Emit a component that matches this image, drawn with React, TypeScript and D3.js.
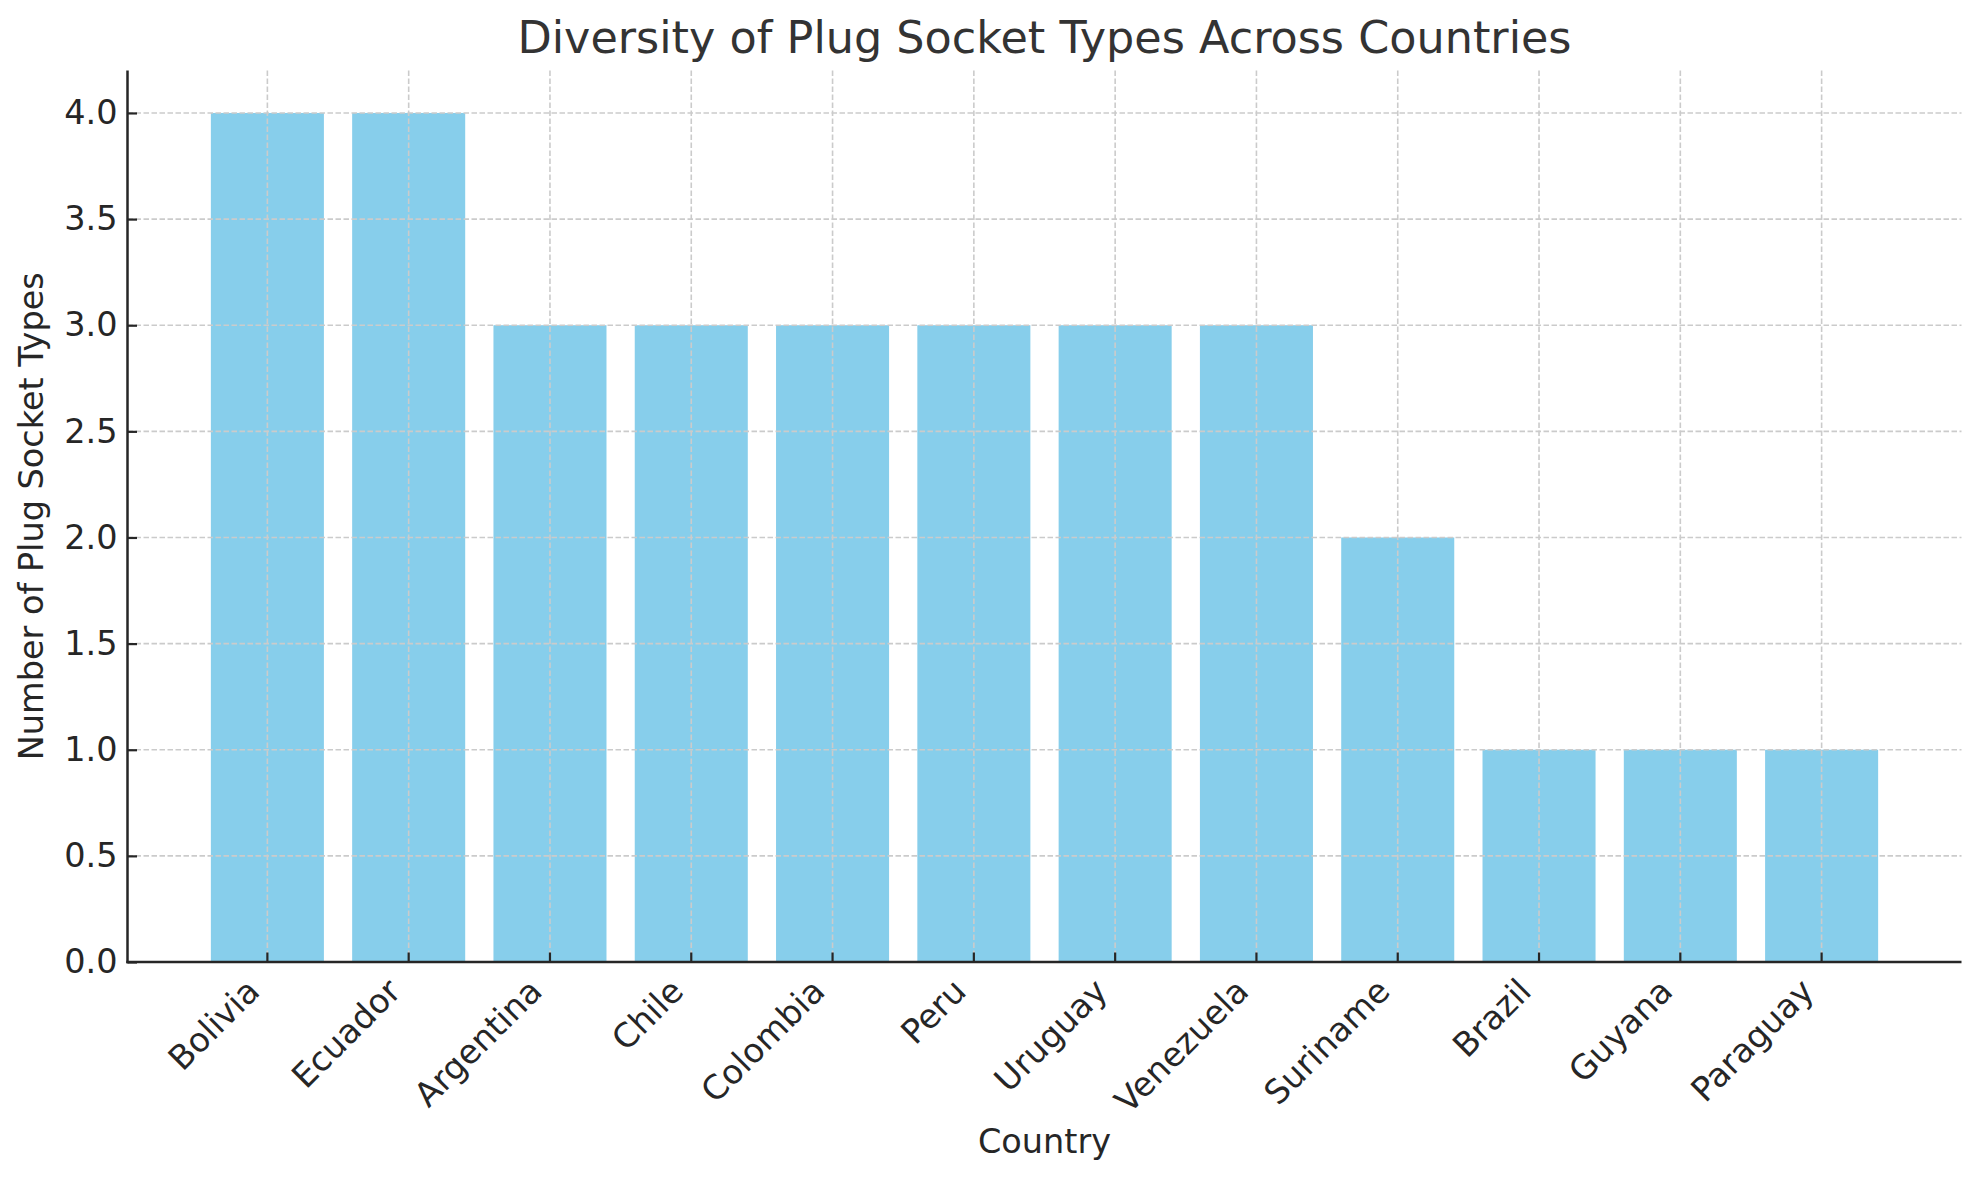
import { useEffect, useRef } from "react";
import * as d3 from "d3";

const countries = [
  "Bolivia",
  "Ecuador",
  "Argentina",
  "Chile",
  "Colombia",
  "Peru",
  "Uruguay",
  "Venezuela",
  "Suriname",
  "Brazil",
  "Guyana",
  "Paraguay",
];
const socketCounts = [4, 4, 3, 3, 3, 3, 3, 3, 2, 1, 1, 1];
const yTicks = [0, 0.5, 1, 1.5, 2, 2.5, 3, 3.5, 4];

const WIDTH = 1979;
const HEIGHT = 1180;
const PLOT = { left: 127.5, right: 1961.5, top: 70.5, bottom: 962 };
const FONT = "'DejaVu Sans', Verdana, sans-serif";
const TEXT = "#262626";

export default function App() {
  const gRef = useRef<SVGGElement>(null);

  useEffect(() => {
    if (!gRef.current) return;
    const g = d3.select(gRef.current);
    g.selectAll("*").remove();

    const x = d3
      .scaleBand<string>()
      .domain(countries)
      .range([PLOT.left, PLOT.right])
      .paddingInner(0.2)
      .paddingOuter(0.59);

    const y = d3.scaleLinear().domain([0, 4.2]).range([PLOT.bottom, PLOT.top]);

    // bars
    g.append("g")
      .selectAll("rect")
      .data(countries)
      .join("rect")
      .attr("x", (d) => x(d)!)
      .attr("y", (_, i) => y(socketCounts[i]))
      .attr("width", x.bandwidth())
      .attr("height", (_, i) => y(0) - y(socketCounts[i]))
      .attr("fill", "#87ceeb");

    // grid (drawn over bars)
    const grid = g
      .append("g")
      .attr("stroke", "#cbcbcb")
      .attr("stroke-width", 1.6)
      .attr("stroke-dasharray", "5.5,2.5");
    grid
      .selectAll("line.h")
      .data(yTicks.slice(1))
      .join("line")
      .attr("class", "h")
      .attr("x1", PLOT.left)
      .attr("x2", PLOT.right)
      .attr("y1", (d) => y(d))
      .attr("y2", (d) => y(d));
    grid
      .selectAll("line.v")
      .data(countries)
      .join("line")
      .attr("class", "v")
      .attr("x1", (d) => x(d)! + x.bandwidth() / 2)
      .attr("x2", (d) => x(d)! + x.bandwidth() / 2)
      .attr("y1", PLOT.top)
      .attr("y2", PLOT.bottom);

    // y axis
    const yAxis = g
      .append("g")
      .attr("transform", `translate(${PLOT.left},0)`)
      .call(
        d3
          .axisLeft(y)
          .tickValues(yTicks)
          .tickFormat((d) => d3.format(".1f")(Number(d)))
          .tickSizeInner(-9.5)
          .tickSizeOuter(0)
          .tickPadding(10)
      );
    yAxis.select(".domain").remove();
    yAxis.selectAll(".tick line").attr("stroke", TEXT).attr("stroke-width", 2.2);
    yAxis
      .selectAll(".tick text")
      .attr("fill", TEXT)
      .attr("font-size", 33.5)
      .attr("font-family", FONT);

    // x axis
    const xAxis = g
      .append("g")
      .attr("transform", `translate(0,${PLOT.bottom})`)
      .call(d3.axisBottom(x).tickSizeInner(-9.5).tickSizeOuter(0));
    xAxis.select(".domain").remove();
    xAxis.selectAll(".tick line").attr("stroke", TEXT).attr("stroke-width", 2.2);
    xAxis
      .selectAll(".tick text")
      .attr("fill", TEXT)
      .attr("font-size", 33.5)
      .attr("font-family", FONT)
      .attr("text-anchor", "end")
      .attr("dominant-baseline", "central")
      .attr("x", null)
      .attr("y", null)
      .attr("dy", null)
      .attr("transform", "translate(-14,23) rotate(-45)");

    // spines
    g.append("line")
      .attr("x1", PLOT.left)
      .attr("x2", PLOT.left)
      .attr("y1", PLOT.top)
      .attr("y2", PLOT.bottom + 1.2)
      .attr("stroke", TEXT)
      .attr("stroke-width", 2.5);
    g.append("line")
      .attr("x1", PLOT.left - 1.2)
      .attr("x2", PLOT.right)
      .attr("y1", PLOT.bottom)
      .attr("y2", PLOT.bottom)
      .attr("stroke", TEXT)
      .attr("stroke-width", 2.5);

    // labels
    g.append("text")
      .attr("x", (PLOT.left + PLOT.right) / 2)
      .attr("y", 53)
      .attr("text-anchor", "middle")
      .attr("fill", "#333333")
      .attr("font-size", 44.5)
      .attr("font-family", FONT)
      .text("Diversity of Plug Socket Types Across Countries");

    g.append("text")
      .attr("x", (PLOT.left + PLOT.right) / 2)
      .attr("y", 1153)
      .attr("text-anchor", "middle")
      .attr("fill", TEXT)
      .attr("font-size", 33.5)
      .attr("font-family", FONT)
      .text("Country");

    g.append("text")
      .attr("transform", `translate(43,${(PLOT.top + PLOT.bottom) / 2}) rotate(-90)`)
      .attr("text-anchor", "middle")
      .attr("fill", TEXT)
      .attr("font-size", 33.5)
      .attr("font-family", FONT)
      .text("Number of Plug Socket Types");
  }, []);

  return (
    <svg
      width={WIDTH}
      height={HEIGHT}
      style={{ position: "absolute", left: 0, top: 0, background: "#ffffff", display: "block" }}
    >
      <g ref={gRef} />
    </svg>
  );
}
